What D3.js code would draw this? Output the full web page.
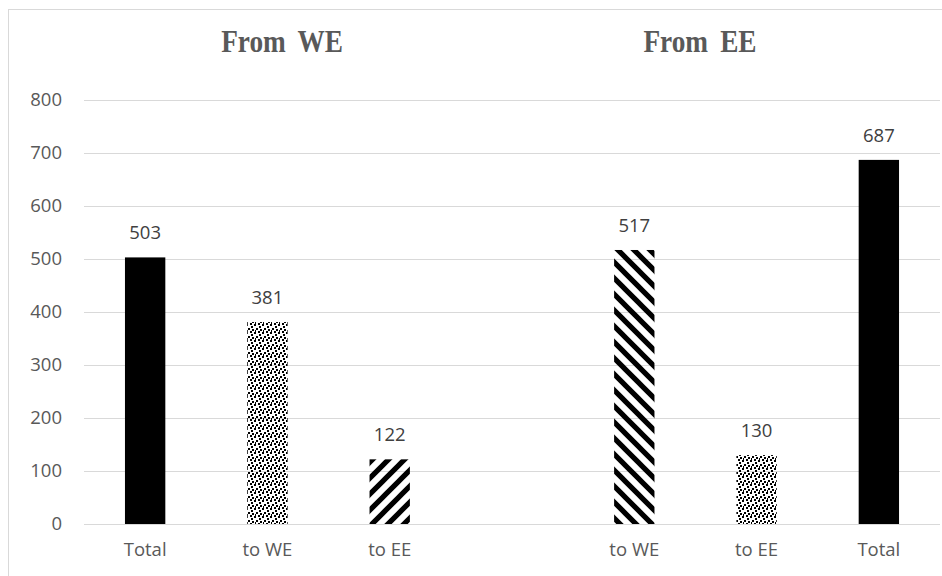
<!DOCTYPE html>
<html>
<head>
<meta charset="utf-8">
<script src="https://cdn.jsdelivr.net/npm/d3@7/dist/d3.min.js"></script>
<style>
  html, body { margin: 0; padding: 0; background: #fff; }
  svg { display: block; }
</style>
</head>
<body>
<svg id="chart" width="942" height="576"></svg>
<script>
// Migration flows, in two groups with an empty slot between them
const slots    = ["we-total", "we-towe", "we-toee", "gap", "ee-towe", "ee-toee", "ee-total"];
const xLabels  = ["Total", "to WE", "to EE", "", "to WE", "to EE", "Total"];
const values   = [503, 381, 122, null, 517, 130, 687];
const fills    = ["solid", "dots", "hatchUp", null, "hatchDown", "dots", "solid"];
const groupTitles = ["From WE", "From EE"];
const yTicks   = [0, 100, 200, 300, 400, 500, 600, 700, 800];

const svg = d3.select("#chart");
const plot = { left: 84, right: 940, top: 100, bottom: 524 };

// Fill patterns: confetti dots and two diagonal hatches
const defs = svg.append("defs");
const dots = defs.append("pattern").attr("id", "dots")
  .attr("patternUnits", "userSpaceOnUse").attr("width", 8).attr("height", 8);
dots.selectAll("rect").data([[0, 0], [4, 1], [2, 3], [6, 4], [3, 6], [7, 2]]).join("rect")
  .attr("x", d => d[0]).attr("y", d => d[1])
  .attr("width", 2).attr("height", 2).attr("fill", "#000")
  .attr("shape-rendering", "crispEdges");

const up = defs.append("pattern").attr("id", "hatchUp")
  .attr("patternUnits", "userSpaceOnUse").attr("width", 16).attr("height", 16);
up.append("path").attr("d", "M-4,4 L4,-4 M0,16 L16,0 M12,20 L20,12")
  .attr("stroke", "#000").attr("stroke-width", 5.2);

const down = defs.append("pattern").attr("id", "hatchDown")
  .attr("patternUnits", "userSpaceOnUse").attr("width", 16).attr("height", 16);
down.append("path").attr("d", "M-4,12 L4,20 M0,0 L16,16 M12,-4 L20,4")
  .attr("stroke", "#000").attr("stroke-width", 5.2);

// Chart frame
svg.append("rect").attr("x", 8.5).attr("y", 9.5).attr("width", 1000).attr("height", 1000)
  .attr("fill", "none").attr("stroke", "#d9d9d9").attr("stroke-width", 1);

const x = d3.scaleBand().domain(slots).range([plot.left, plot.right])
  .paddingInner(0.67).paddingOuter(0.335);
const y = d3.scaleLinear().domain([0, 800]).range([plot.bottom, plot.top]);

const textFont = "'Open Sans', sans-serif";

// Horizontal gridlines and value axis labels
const yAxis = d3.axisLeft(y).tickValues(yTicks).tickSize(-(plot.right - plot.left)).tickPadding(22);
const gy = svg.append("g").attr("transform", `translate(${plot.left},0)`).call(yAxis);
gy.select(".domain").remove();
gy.selectAll(".tick line").attr("stroke", "#d9d9d9").attr("stroke-width", 1);
gy.selectAll(".tick text")
  .attr("fill", "#595959").style("font-family", textFont).style("font-size", "18.5px");

// Category labels
const xAxis = d3.axisBottom(x).tickFormat((d, i) => xLabels[i]).tickSize(0).tickPadding(19);
const gx = svg.append("g").attr("transform", `translate(0,${plot.bottom})`).call(xAxis);
gx.select(".domain").remove();
gx.selectAll(".tick text")
  .attr("fill", "#595959").style("font-family", textFont).style("font-size", "18.5px");

// Bars
const data = slots.map((s, i) => ({ slot: s, value: values[i], fill: fills[i] }))
  .filter(d => d.value != null);

svg.append("g").selectAll("rect").data(data).join("rect")
  .attr("x", d => x(d.slot))
  .attr("y", d => y(d.value))
  .attr("width", x.bandwidth())
  .attr("height", d => y(0) - y(d.value))
  .attr("fill", d => d.fill === "solid" ? "#000" : `url(#${d.fill})`);

// Value labels
svg.append("g").selectAll("text").data(data).join("text")
  .attr("x", d => x(d.slot) + x.bandwidth() / 2)
  .attr("y", d => y(d.value) - 18)
  .attr("text-anchor", "middle")
  .attr("fill", "#404040")
  .style("font-family", textFont).style("font-size", "18.5px")
  .text(d => d.value);

// Group titles (narrow bold serif)
svg.append("g").selectAll("text").data(groupTitles).join("text")
  .attr("transform", (d, i) => `translate(${[282, 700][i]},52) scale(0.88,1)`)
  .attr("text-anchor", "middle")
  .attr("fill", "#595959")
  .style("font-family", "'Liberation Serif', serif").style("font-weight", "bold")
  .style("font-size", "31px").style("word-spacing", "6px")
  .text(d => d);
</script>
</body>
</html>
